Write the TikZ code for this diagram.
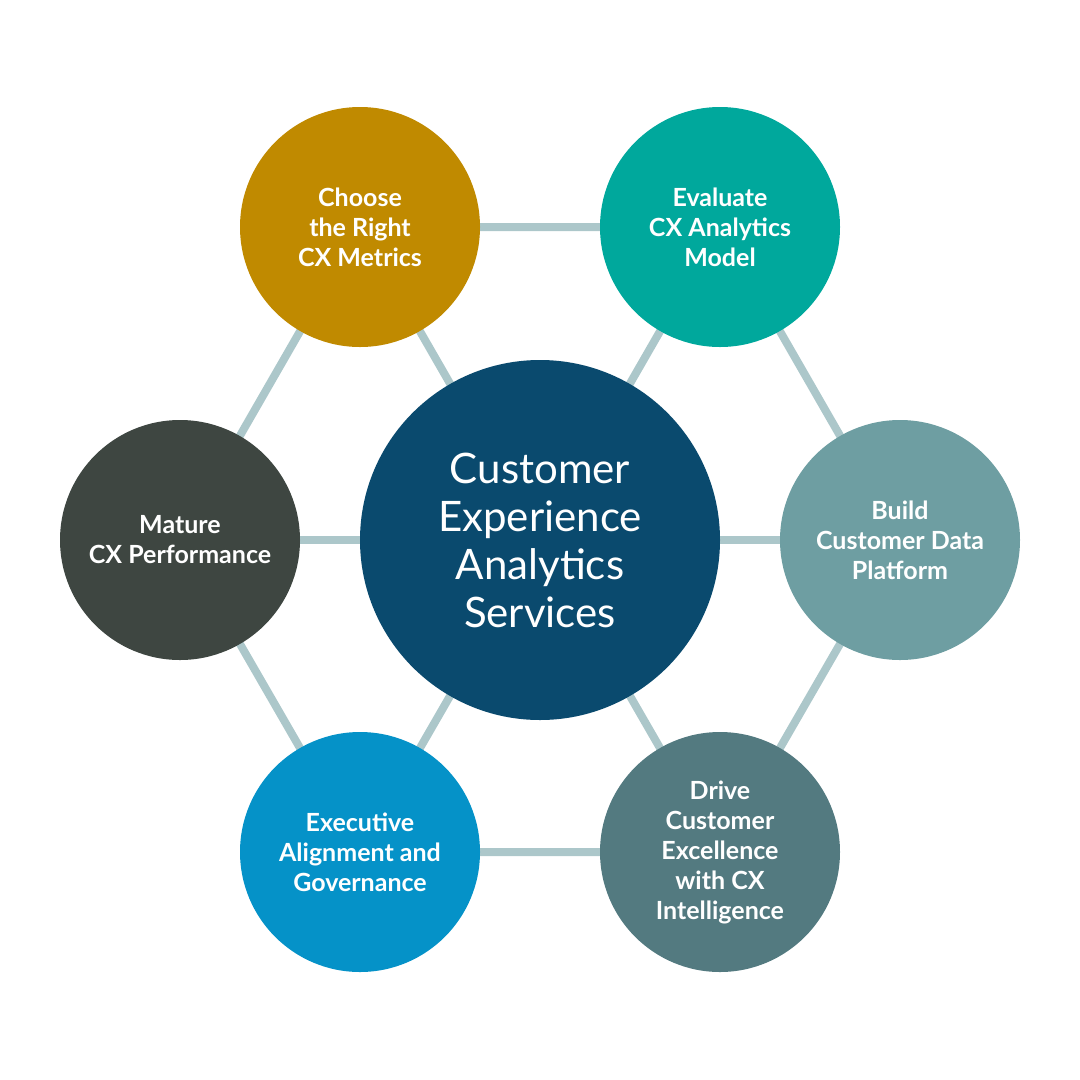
\documentclass[tikz,border=0pt]{standalone}
\usepackage{fontspec}
\setmainfont{Lato}
\usetikzlibrary{backgrounds}
\definecolor{linkc}{HTML}{ACC7CA}
\definecolor{cgold}{HTML}{C08A00}
\definecolor{cteal}{HTML}{00A89C}
\definecolor{cgrey}{HTML}{6E9EA2}
\definecolor{cslate}{HTML}{537A80}
\definecolor{cblue}{HTML}{0592C8}
\definecolor{cdark}{HTML}{3E4641}
\definecolor{cnavy}{HTML}{0A4A6E}
\tikzset{
  outer/.style={circle, minimum size=240pt, inner sep=0pt, text=white, align=center,
    font=\fontsize{25}{30}\selectfont\bfseries},
  hub/.style={circle, minimum size=360pt, inner sep=0pt, fill=cnavy, text=white, align=center,
    font=\fontsize{42}{48}\selectfont},
  link/.style={draw=linkc, line width=8pt}
}
\begin{document}
\begin{tikzpicture}[x=1pt,y=-1pt]
\useasboundingbox (0,0) rectangle (1080,1080);
\node[hub] (c) at (540,540) {Customer\\Experience\\Analytics\\Services};
\node[outer, fill=cgold] (n1) at (360,227) {Choose\\the Right\\CX Metrics};
\node[outer, fill=cteal] (n2) at (720,227) {Evaluate\\CX Analytics\\Model};
\node[outer, fill=cgrey] (n3) at (900,540) {Build\\Customer Data\\Platform};
\node[outer, fill=cslate] (n4) at (720,852) {Drive\\Customer\\Excellence\\with CX\\Intelligence};
\node[outer, fill=cblue] (n5) at (360,852) {Executive\\Alignment and\\Governance};
\node[outer, fill=cdark] (n6) at (180,540) {Mature\\CX Performance};
\begin{scope}[on background layer]
\foreach \i in {1,...,6} \draw[link] (c.center) -- (n\i.center);
\draw[link] (n1.center) -- (n2.center) -- (n3.center) -- (n4.center) -- (n5.center) -- (n6.center) -- (n1.center);
\end{scope}
\end{tikzpicture}
\end{document}
